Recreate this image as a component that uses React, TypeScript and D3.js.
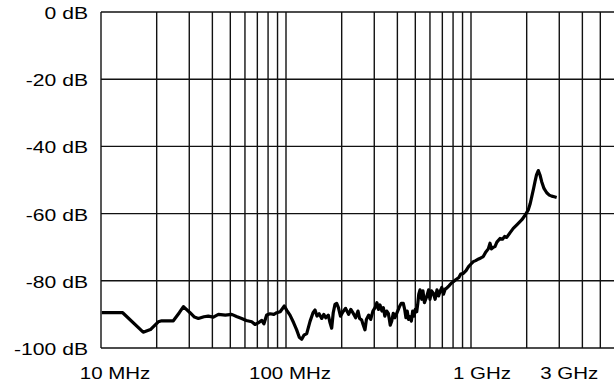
import React from 'react';
import * as d3 from 'd3';

// measured response, frequency in MHz / level in dB
const freqMHz = [
  10.1, 13.1, 16.9, 18.5, 20.4, 21.3, 24.6, 26.5, 27.9, 30.3, 32.0, 33.6, 36.0, 38.0, 40.5, 43.1,
  47.0, 50.9, 54.0, 57.6, 61.0, 65.3, 68.0, 70.8, 74.0, 76.0, 78.6, 82.0, 86.0, 89.1, 93.0, 97.9,
  101.0, 105.1, 110.0, 114.2, 118.0, 121.6, 125.0, 129.4, 135.0, 140.0, 143.5, 147.0, 151.0, 156.0,
  160.0, 164.0, 169.3, 173.0, 176.6, 180.0, 184.0, 187.9, 192.0, 197.0, 203.3, 210.0, 218.0, 224.0,
  231.1, 238.0, 245.0, 250.0, 256.6, 261.0, 267.3, 272.0, 280.0, 287.0, 295.0, 303.0, 310.0, 316.0,
  322.2, 330.0, 336.0, 342.0, 350.0, 357.4, 362.0, 366.0, 372.8, 380.0, 388.0, 396.7, 405.0, 412.0,
  420.0, 430.5, 438.0, 445.0, 452.0, 460.0, 468.1, 476.0, 484.0, 492.0, 500.0, 508.8, 515.0, 522.0,
  530.0, 541.4, 550.0, 560.0, 576.1, 590.0, 600.0, 612.0, 625.5, 640.0, 655.0, 668.0, 679.8, 695.0,
  710.0, 725.0, 738.9, 760.0, 780.0, 802.2, 830.0, 860.0, 880.0, 908.8, 940.0, 970.0, 1000.0, 1029.0,
  1060.0, 1100.0, 1130.0, 1165.0, 1200.0, 1240.0, 1267.0, 1290.0, 1320.0, 1348.0, 1380.0, 1435.0,
  1480.0, 1520.0, 1560.0, 1620.0, 1692.0, 1780.0, 1879.0, 1960.0, 2040.0, 2090.0, 2129.0, 2180.0,
  2218.0, 2260.0, 2311.0, 2360.0, 2411.0, 2480.0, 2566.0, 2650.0, 2731.0, 2820.0, 2905.0,
];
const levelDb = [
  -89.5, -89.5, -95.3, -94.5, -92.2, -91.9, -91.9, -89.5, -87.7, -89.5, -90.8, -91.2, -90.7, -90.5, -90.8, -90.0,
  -90.2, -90.0, -90.6, -91.2, -91.8, -92.2, -93.0, -92.5, -91.8, -92.8, -90.2, -89.8, -90.0, -89.5, -89.2, -87.5,
  -88.8, -90.2, -92.5, -94.6, -96.8, -97.4, -96.2, -95.7, -92.0, -89.5, -88.7, -90.5, -89.8, -91.2,
  -90.0, -91.0, -90.2, -92.5, -94.1, -89.5, -87.0, -86.7, -88.0, -90.5, -89.2, -88.2, -90.0, -88.5,
  -89.7, -91.0, -89.0, -91.2, -91.7, -93.0, -94.6, -91.5, -90.2, -91.5, -89.0, -88.0, -86.5, -88.5,
  -87.2, -89.0, -88.0, -90.5, -89.0, -89.7, -91.5, -93.2, -92.0, -89.7, -91.0, -89.7, -88.5, -87.5,
  -86.7, -86.7, -88.5, -91.0, -89.0, -91.5, -90.7, -92.0, -89.0, -90.5, -88.5, -89.2, -87.0, -84.0,
  -82.7, -85.5, -83.0, -86.5, -84.7, -82.7, -85.5, -83.0, -83.7, -85.5, -82.7, -84.5, -83.2, -82.0,
  -84.0, -82.5, -82.2, -81.5, -80.8, -80.3, -79.6, -79.0, -78.0, -77.8, -77.0, -75.8, -75.0, -74.3,
  -74.0, -73.5, -73.2, -72.8, -71.5, -70.5, -68.8, -70.5, -70.0, -69.8, -68.5, -67.4,
  -67.6, -66.8, -67.1, -65.8, -64.4, -63.2, -61.9, -60.5, -58.9, -57.0, -55.0, -52.5,
  -50.5, -48.5, -47.2, -48.5, -50.5, -52.5, -53.8, -54.5, -54.8, -55.0, -55.2,
];

const yTicks = [0, -20, -40, -60, -80, -100];
const xTicks = [10, 100, 1000, 3000];
const xTickLabels = ['10 MHz', '100 MHz', '1 GHz', '3 GHz'];

export default function App() {
  const W = 614, H = 388;
  const x = d3.scaleLog().domain([10, 10000]).range([101, 656]);
  const y = d3.scaleLinear().domain([-100, 0]).range([348, 12]);

  // vertical grid: 1..9 per decade
  const gridF: number[] = [];
  [10, 100, 1000].forEach((d) => {
    for (let k = 1; k <= 9; k++) gridF.push(d * k);
  });
  gridF.push(10000);

  const pts = freqMHz.map((f, i) => [f, levelDb[i]] as [number, number]);
  const line = d3.line<[number, number]>()
    .x((d) => x(d[0]))
    .y((d) => y(d[1]));

  const labelDx = [14, 4, 11, 10];
  const font = '"Liberation Sans", Arial, sans-serif';

  return (
    <svg width={W} height={H} style={{ position: 'absolute', left: 0, top: 0, background: '#fff' }}>
      <g stroke="#111" strokeWidth={1.4}>
        {gridF.map((f) => (
          <line key={'v' + f} x1={x(f)} x2={x(f)} y1={y(0)} y2={y(-100)} />
        ))}
        {yTicks.map((v) => (
          <line key={'h' + v} x1={x(10)} x2={x(10000)} y1={y(v)} y2={y(v)} />
        ))}
      </g>
      <path d={line(pts) || ''} fill="none" stroke="#000" strokeWidth={3.2} strokeLinejoin="round" />
      <g fontFamily={font} fontSize={16} fill="#000">
        {yTicks.map((v) => (
          <text key={'yl' + v} textAnchor="end"
            transform={`translate(88,${y(v) + 7}) scale(1.32,1)`}>{`${v} dB`}</text>
        ))}
        {xTicks.map((f, i) => (
          <text key={'xl' + f} textAnchor="middle"
            transform={`translate(${x(f) + labelDx[i]},379) scale(1.28,1)`}>{xTickLabels[i]}</text>
        ))}
      </g>
    </svg>
  );
}
